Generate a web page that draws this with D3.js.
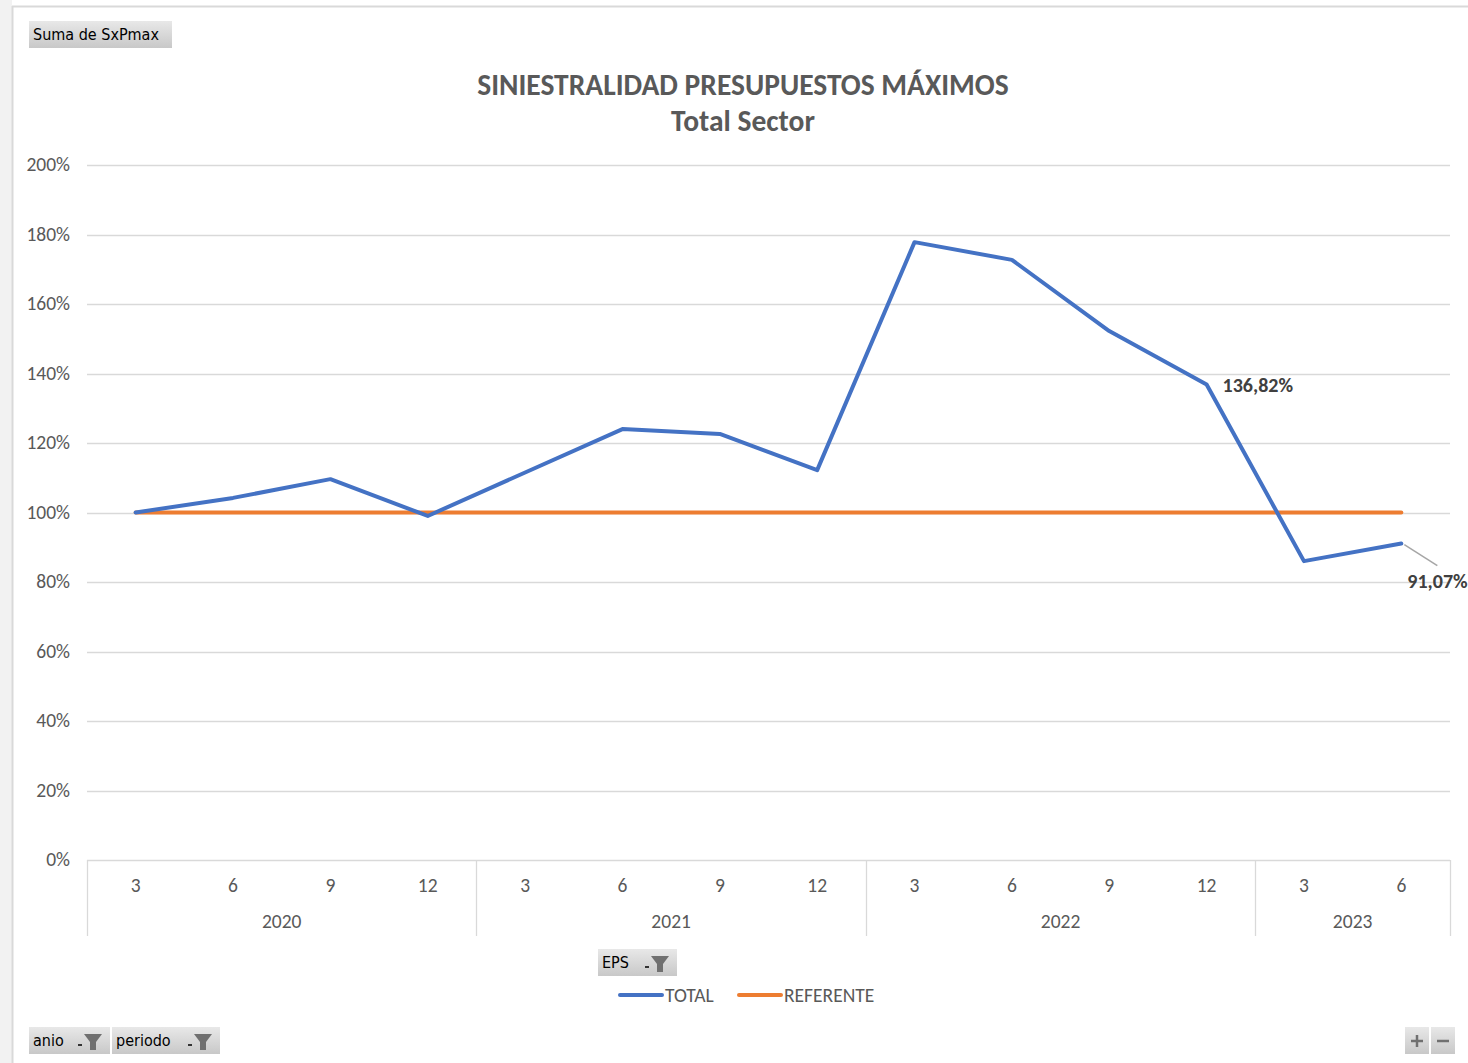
<!DOCTYPE html>
<html>
<head>
<meta charset="utf-8">
<script src="https://cdn.jsdelivr.net/npm/d3@7"></script>
<style>
  body { margin: 0; background: #fff; }
  svg { display: block; }
</style>
</head>
<body>
<div id="chart"></div>
<script>
// data
const years = ['2020', '2021', '2022', '2023'];
const periods = [
  ['3', '6', '9', '12'],
  ['3', '6', '9', '12'],
  ['3', '6', '9', '12'],
  ['3', '6']
];
const total = [1.000, 1.042, 1.096, 0.990, 1.115, 1.240, 1.226, 1.122, 1.778, 1.727, 1.522, 1.3682, 0.860, 0.9107];
const referente = [1, 1, 1, 1, 1, 1, 1, 1, 1, 1, 1, 1, 1, 1];
const yTicks = [0, 0.2, 0.4, 0.6, 0.8, 1.0, 1.2, 1.4, 1.6, 1.8, 2.0];

const width = 1468, height = 1063;
const margin = { top: 165, left: 87, right: 18, bottom: 203 };
const font = 'Carlito, Calibri, "Open Sans", sans-serif';

let svg = d3.select('#chart').append('svg')
  .attr('width', width)
  .attr('height', height)
  .style('font-family', font);

// frame around the pivot chart
svg.append('rect').attr('x', 0).attr('y', 0).attr('width', 12).attr('height', height).attr('fill', '#f2f2f2');
svg.append('line').attr('x1', 12).attr('x2', width).attr('y1', 6.5).attr('y2', 6.5).attr('stroke', '#d9d9d9').attr('stroke-width', 2);
svg.append('line').attr('x1', 12.5).attr('x2', 12.5).attr('y1', 6).attr('y2', height).attr('stroke', '#d9d9d9').attr('stroke-width', 2);

// flatten categories
let cats = [];
periods.forEach((ps, yi) => ps.forEach(p => cats.push({ year: years[yi], period: p, key: years[yi] + '-' + p })));

let x = d3.scaleBand()
  .domain(cats.map(d => d.key))
  .range([margin.left, width - margin.right]);

let y = d3.scaleLinear()
  .domain([0, 2])
  .range([height - margin.bottom, margin.top]);

// gridlines
svg.append('g').selectAll('line')
  .data(yTicks)
  .enter().append('line')
  .attr('x1', margin.left)
  .attr('x2', width - margin.right)
  .attr('y1', d => Math.round(y(d)) + 0.5)
  .attr('y2', d => Math.round(y(d)) + 0.5)
  .attr('stroke', '#d9d9d9')
  .attr('stroke-width', 1.3);

// y labels
let pct = d3.format('.0%');
svg.append('g').selectAll('text')
  .data(yTicks)
  .enter().append('text')
  .attr('x', 70)
  .attr('y', d => y(d) + 6)
  .attr('text-anchor', 'end')
  .attr('fill', '#595959')
  .style('font-size', '19.5px')
  .text(d => pct(d));

// category axis (two levels)
let axisY = y(0);
let bounds = [0];
periods.forEach((ps, i) => bounds.push(bounds[i] + ps.length));
let xAxis = svg.append('g');
bounds.forEach(b => {
  let px = b < cats.length ? x(cats[b].key) : x.range()[1];
  xAxis.append('line')
    .attr('x1', Math.round(px) + 0.5).attr('x2', Math.round(px) + 0.5)
    .attr('y1', axisY).attr('y2', axisY + 76)
    .attr('stroke', '#d9d9d9').attr('stroke-width', 1.3);
});
xAxis.selectAll('.per')
  .data(cats)
  .enter().append('text')
  .attr('x', d => x(d.key) + x.bandwidth() / 2)
  .attr('y', axisY + 32)
  .attr('text-anchor', 'middle')
  .attr('fill', '#595959')
  .style('font-size', '19.5px')
  .text(d => d.period);
xAxis.selectAll('.yr')
  .data(years)
  .enter().append('text')
  .attr('x', (d, i) => {
    let a = x(cats[bounds[i]].key);
    let b = bounds[i + 1] < cats.length ? x(cats[bounds[i + 1]].key) : x.range()[1];
    return (a + b) / 2;
  })
  .attr('y', axisY + 68)
  .attr('text-anchor', 'middle')
  .attr('fill', '#595959')
  .style('font-size', '19.5px')
  .text(d => d);

// lines
let line = d3.line()
  .x((d, i) => x(cats[i].key) + x.bandwidth() / 2)
  .y(d => y(d));

svg.append('path')
  .datum(referente)
  .attr('d', line)
  .attr('fill', 'none')
  .attr('stroke', '#ED7D31')
  .attr('stroke-width', 4)
  .attr('stroke-linecap', 'round');

svg.append('path')
  .datum(total)
  .attr('d', line)
  .attr('fill', 'none')
  .attr('stroke', '#4472C4')
  .attr('stroke-width', 4)
  .attr('stroke-linejoin', 'round')
  .attr('stroke-linecap', 'round');

// data labels
let lblFmt = v => d3.format('.2f')(v * 100).replace('.', ',') + '%';
let i1 = 11, i2 = 13;
let cx1 = x(cats[i1].key) + x.bandwidth() / 2;
svg.append('text')
  .attr('x', cx1 + 16)
  .attr('y', y(total[i1]) + 7)
  .attr('fill', '#404040')
  .style('font-size', '20px')
  .style('font-weight', 'bold')
  .text(lblFmt(total[i1]));

let cx2 = x(cats[i2].key) + x.bandwidth() / 2;
svg.append('line')
  .attr('x1', cx2 + 3).attr('y1', y(total[i2]) + 1)
  .attr('x2', cx2 + 36).attr('y2', y(total[i2]) + 22)
  .attr('stroke', '#a6a6a6').attr('stroke-width', 1.5);
svg.append('text')
  .attr('x', cx2 + 6)
  .attr('y', y(total[i2]) + 44)
  .attr('fill', '#404040')
  .style('font-size', '20px')
  .style('font-weight', 'bold')
  .text(lblFmt(total[i2]));

// title
svg.append('text')
  .attr('x', 743).attr('y', 95)
  .attr('text-anchor', 'middle')
  .attr('fill', '#595959')
  .style('font-size', '29.5px')
  .style('font-weight', 'bold')
  .text('SINIESTRALIDAD PRESUPUESTOS MÁXIMOS');
svg.append('text')
  .attr('x', 743).attr('y', 131)
  .attr('text-anchor', 'middle')
  .attr('fill', '#595959')
  .style('font-size', '29.5px')
  .style('font-weight', 'bold')
  .text('Total Sector');

// legend
let legend = [{ name: 'TOTAL', color: '#4472C4', x: 618 }, { name: 'REFERENTE', color: '#ED7D31', x: 737 }];
let lg = svg.append('g');
legend.forEach(l => {
  lg.append('line')
    .attr('x1', l.x + 2).attr('x2', l.x + 44)
    .attr('y1', 995).attr('y2', 995)
    .attr('stroke', l.color).attr('stroke-width', 4).attr('stroke-linecap', 'round');
  lg.append('text')
    .attr('x', l.x + 47).attr('y', 1002)
    .attr('fill', '#595959')
    .style('font-size', '19.5px')
    .text(l.name);
});

// pivot field buttons
let grad = svg.append('defs').append('linearGradient')
  .attr('id', 'btn').attr('x1', 0).attr('x2', 0).attr('y1', 0).attr('y2', 1);
grad.append('stop').attr('offset', '0%').attr('stop-color', '#e8e8e8');
grad.append('stop').attr('offset', '100%').attr('stop-color', '#c8c8c8');

function button(bx, by, w, label, filter) {
  let g = svg.append('g').attr('transform', 'translate(' + [bx, by] + ')');
  g.append('rect').attr('width', w).attr('height', 27).attr('fill', 'url(#btn)');
  g.append('text')
    .attr('x', 4).attr('y', 19)
    .attr('fill', '#000')
    .style('font-family', 'Tahoma, "DejaVu Sans Condensed", "DejaVu Sans", sans-serif')
    .style('font-size', '16px')
    .text(label);
  if (filter) {
    // small dropdown tick + funnel
    g.append('rect').attr('x', w - 32).attr('y', 17).attr('width', 4).attr('height', 2).attr('fill', '#333');
    g.append('path')
      .attr('d', 'M' + (w - 26) + ',7 L' + (w - 8) + ',7 L' + (w - 14) + ',15 L' + (w - 14) + ',23 L' + (w - 20) + ',23 L' + (w - 20) + ',15 Z')
      .attr('fill', '#707070');
  }
  return g;
}
button(29, 21, 143, 'Suma de SxPmax', false);
button(598, 949, 79, 'EPS', true);
button(29, 1027, 81, 'anio', true);
button(112, 1027, 108, 'periodo', true);

// zoom buttons
[{ x: 1405, s: '+' }, { x: 1431, s: '−' }].forEach(b => {
  let g = svg.append('g').attr('transform', 'translate(' + [b.x, 1027] + ')');
  g.append('rect').attr('width', 24).attr('height', 27).attr('fill', 'url(#btn)');
  g.append('line').attr('x1', 6).attr('x2', 18).attr('y1', 14).attr('y2', 14).attr('stroke', '#707070').attr('stroke-width', 2.5);
  if (b.s === '+') {
    g.append('line').attr('x1', 12).attr('x2', 12).attr('y1', 8).attr('y2', 20).attr('stroke', '#707070').attr('stroke-width', 2.5);
  }
});
</script>
</body>
</html>
